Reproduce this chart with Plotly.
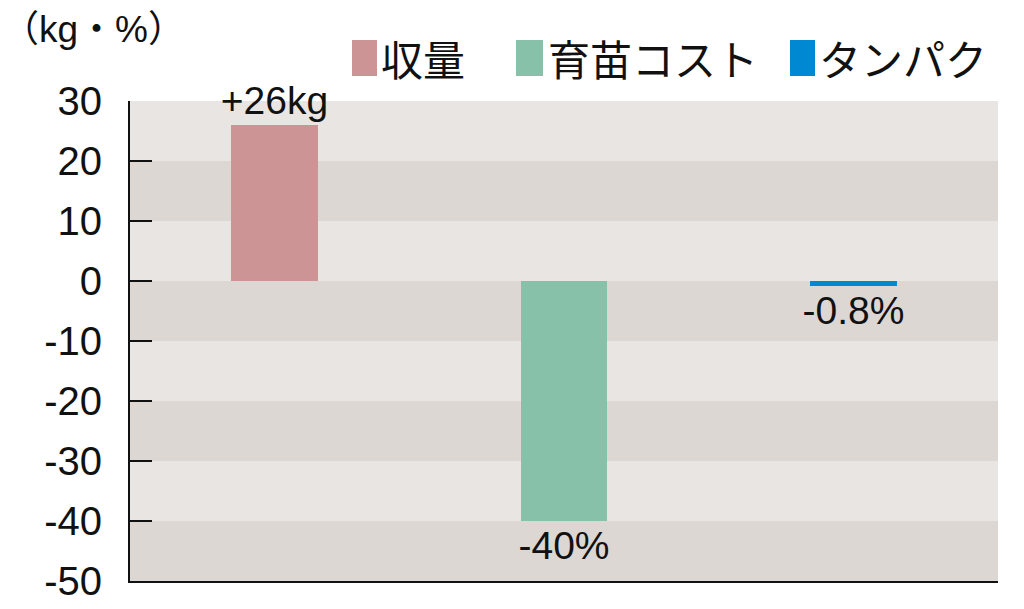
import plotly.graph_objects as go

# ---- data ----
categories = ["収量", "育苗コスト", "タンパク"]
values = [26, -40, -0.8]
value_labels = ["+26kg", "-40%", "-0.8%"]
bar_colors = ["#cc9494", "#87c1a9", "#0088d2"]
tick_vals = [30, 20, 10, 0, -10, -20, -30, -40, -50]
tick_text = ["30", "20", "10", "0", "-10", "-20", "-30", "-40", "-50"]
unit_label = "（kg・%）"

# ---- layout geometry (body margin removed via post_script) ----
W, H = 1024, 609
PLOT_L, PLOT_R, PLOT_T, PLOT_B = 130, 998, 101, 581  # target screen pixels
ML, MT = PLOT_L, PLOT_T
MR, MB = W - PLOT_R, H - PLOT_B
PW, PH = W - ML - MR, H - MT - MB
LIGHT = "#e9e5e2"
DARK = "#ddd7d4"
FONT = "Liberation Sans, Noto Sans CJK JP, sans-serif"
JFONT = "Noto Sans CJK JP, sans-serif"


def px_x(x):
    return (x - ML) / PW


def px_y(y):
    return (H - MB - y) / PH


fig = go.Figure()
for i, (cat, v, lab, col) in enumerate(zip(categories, values, value_labels, bar_colors)):
    fig.add_trace(go.Bar(
        x=[i], y=[v], name=cat, width=0.3,
        marker=dict(color=col, line=dict(width=0)),
        text=[lab], textposition="outside", cliponaxis=False, constraintext="none",
        textfont=dict(family=FONT, size=39, color="#111111"),
        showlegend=False,
    ))

shapes = []
# alternating background bands
for lo in range(-50, 30, 10):
    band_idx = (lo + 50) // 10
    color = DARK if band_idx % 2 == 0 else LIGHT
    shapes.append(dict(type="rect", xref="paper", yref="y", x0=0, x1=1, y0=lo, y1=lo + 10,
                       fillcolor=color, line=dict(width=0), layer="below"))

# manual legend
legend_items = [(352, 377, 379), (516, 543, 546), (790, 815, 817)]
annotations = []
for (sx0, sx1, tx), cat, col in zip(legend_items, categories, bar_colors):
    shapes.append(dict(type="rect", xref="paper", yref="paper",
                       x0=px_x(sx0), x1=px_x(sx1), y0=px_y(76), y1=px_y(40),
                       fillcolor=col, line=dict(width=0)))
    annotations.append(dict(xref="paper", yref="paper", x=px_x(tx), y=px_y(58),
                            xanchor="left", yanchor="middle", showarrow=False,
                            text=cat, font=dict(family=JFONT, size=42, color="#111111")))

annotations.append(dict(xref="paper", yref="paper", x=px_x(0), y=px_y(30),
                        xanchor="left", yanchor="middle", showarrow=False,
                        text=unit_label, font=dict(family=FONT, size=37, color="#111111")))

fig.update_layout(
    width=W, height=H,
    margin=dict(l=ML, r=MR, t=MT, b=MB, pad=0, autoexpand=False),
    paper_bgcolor="white", plot_bgcolor=DARK,
    shapes=shapes, annotations=annotations,
    bargap=0, barmode="overlay",
    xaxis=dict(range=[-0.5, 2.5], showticklabels=False, ticks="", showgrid=False,
               zeroline=False, showline=True, linecolor="#111111", linewidth=2,
               automargin=False, fixedrange=True),
    yaxis=dict(range=[-50, 30], tickvals=tick_vals, ticktext=tick_text, ticks="inside",
               ticklen=22, tickwidth=2, tickcolor="#111111", showgrid=False, zeroline=False,
               showline=True, linecolor="#111111", linewidth=2,
               tickfont=dict(family=FONT, size=40, color="#111111"),
               ticklabeloverflow="allow", automargin=False,
               ticklabelstandoff=18, fixedrange=True),
)

post = ("document.documentElement.style.margin='0';document.body.style.margin='0';"
        "document.documentElement.style.overflow='hidden';document.body.style.overflow='hidden';")
fig.write_html("out.html", post_script=post, config={"displayModeBar": False})
